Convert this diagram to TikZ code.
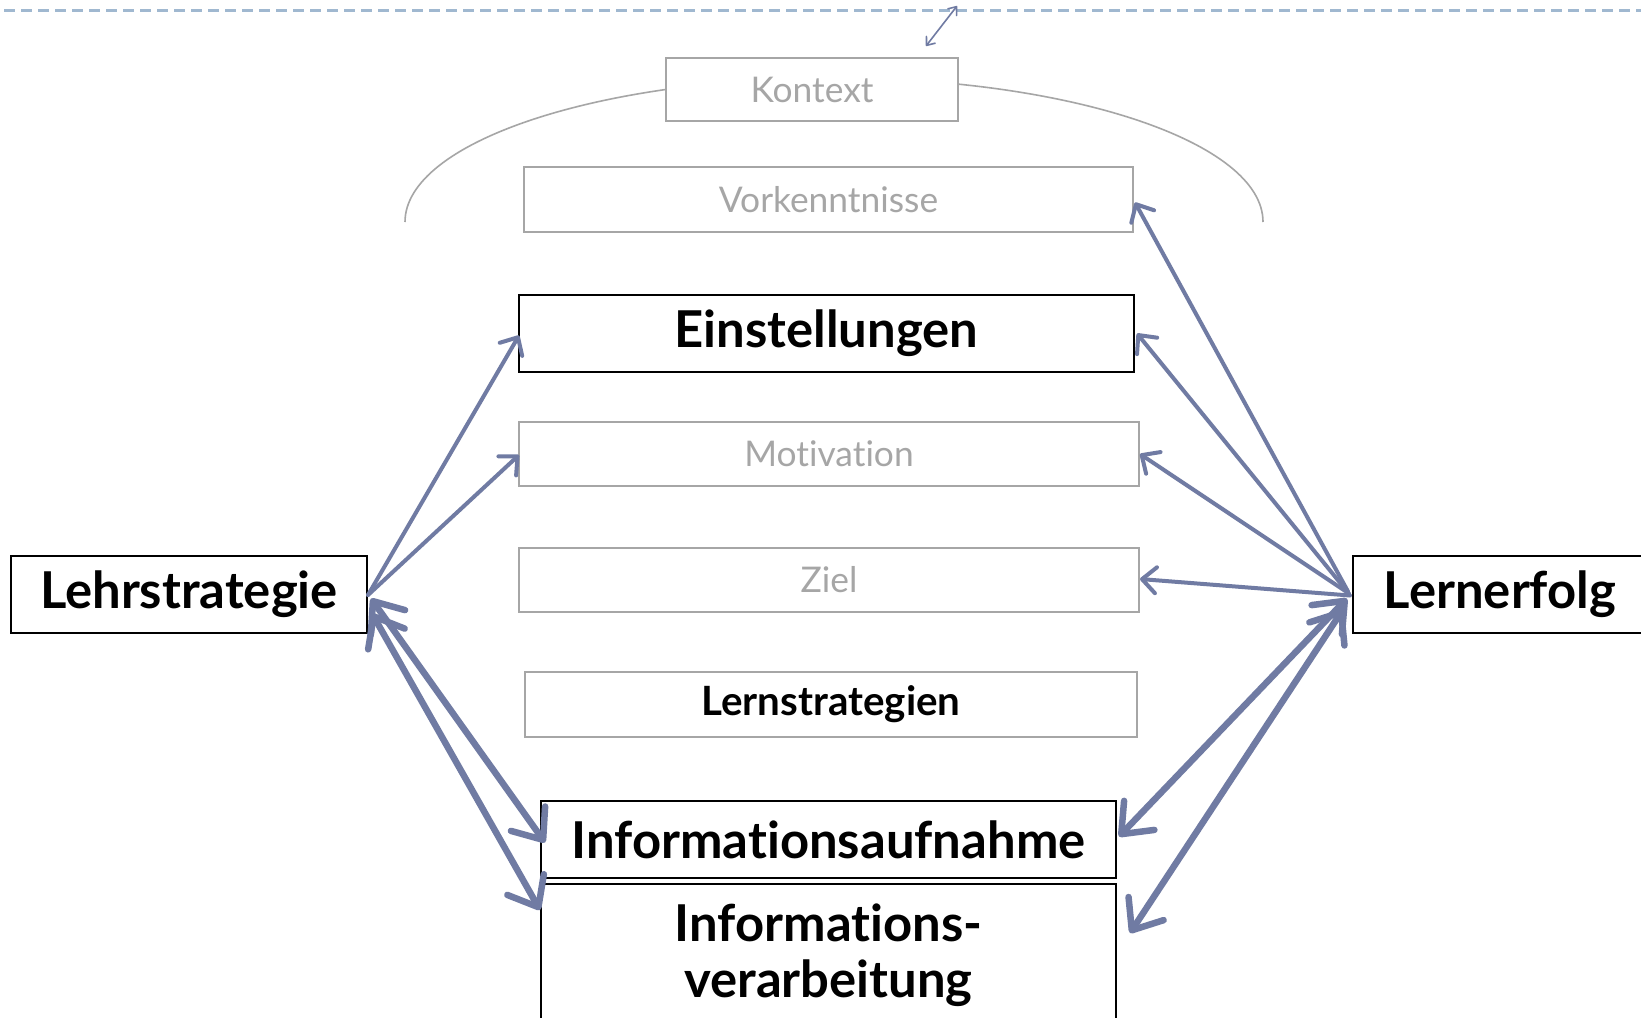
\documentclass[tikz,border=0pt]{standalone}
\usepackage{fontspec}
\setmainfont{Lato}[Ligatures={NoCommon}]
\usetikzlibrary{arrows.meta,calc}
\definecolor{arrowc}{RGB}{112,123,163}
\definecolor{boxgray}{RGB}{166,166,166}
\definecolor{dashc}{RGB}{160,184,208}
\begin{document}
\begin{tikzpicture}[x=1bp,y=-1bp,
  basebox/.style={line width=2bp, fill=white, inner sep=0pt, anchor=north west, align=center},
  graybox/.style={basebox, draw=boxgray, text=boxgray, font=\fontsize{35.5}{42}\selectfont},
  lsbox/.style={basebox, draw=boxgray, text=black, font=\fontsize{40.5}{46}\selectfont\bfseries},
  blackbox/.style={basebox, draw=black, text=black, font=\fontsize{51}{58}\selectfont\bfseries},
  thinarr/.style={draw=arrowc, line width=4bp, line cap=round, -{Straight Barb[length=14bp,width=26bp,round]}},
  thickarr/.style={draw=arrowc, line width=6.5bp, line cap=round, {Straight Barb[length=26bp,width=42bp,round]}-{Straight Barb[length=26bp,width=42bp,round]}},
  toparr/.style={draw=arrowc, line width=1.6bp, {Straight Barb[length=7bp,width=11bp,round]}-{Straight Barb[length=7bp,width=11bp,round]}}
]
\useasboundingbox (0,0) rectangle (1641,1017);
\clip (0,0) rectangle (1641,1017);
\fill[white] (0,0) rectangle (1641,1017);

% dashed top line
\draw[dashc, line width=3bp, dash pattern=on 11bp off 6bp] (4,10) -- (1641,10);

% arc behind Kontext
\draw[boxgray, line width=1.6bp] (405,222) arc[start angle=180, end angle=360, x radius=429, y radius=144];

% boxes
\node[graybox, minimum width=292bp, minimum height=63bp] (kontext) at (665,57) {Kontext};
\node[graybox, minimum width=609bp, minimum height=65bp] (vork) at (523,166) {Vorkenntnisse};
\node[blackbox, minimum width=615bp, minimum height=77bp] (einst) at (518,294) {\raisebox{-3bp}{Einstellungen}};
\node[graybox, minimum width=620bp, minimum height=64bp] (motiv) at (518,421) {Motivation};
\node[graybox, minimum width=620bp, minimum height=64bp] (ziel) at (518,547) {Ziel};
\node[lsbox, minimum width=612bp, minimum height=65bp] (lernstr) at (524,671) {Lernstrategien};
\node[blackbox, minimum width=575bp, minimum height=77bp] (aufn) at (540,800) {Informationsaufnahme};
\node[blackbox, minimum width=575bp, minimum height=142bp] (verarb) at (540,883) {Informations-\\[-2bp]verarbeitung};
\node[blackbox, minimum width=356bp, minimum height=77bp] (lehr) at (10,555) {Lehrstrategie};
\node[blackbox, minimum width=294bp, minimum height=77bp] (lern) at (1352,555) {Lernerfolg};

% top small arrow
\coordinate (ta) at (926,46);
\coordinate (tb) at (957,6);
\draw[toparr] (ta) -- (tb);

% arrows from Lehrstrategie
\draw[thinarr] ([yshift=-0.5bp]lehr.east) -- ([xshift=1bp,yshift=-2bp]einst.west);
\draw[thinarr] ([yshift=-0.5bp]lehr.east) -- ([xshift=1bp,yshift=-1bp]motiv.west);
\draw[thickarr] ([xshift=3bp,yshift=-4bp]lehr.east) -- ([xshift=5bp,yshift=-3bp]aufn.west);
\draw[thickarr] ([xshift=4bp,yshift=-19bp]lehr.east) -- ([xshift=0bp,yshift=-27bp]verarb.north west);

% arrows from Lernerfolg
\draw[thinarr] ([xshift=-4bp,yshift=3bp]lern.west) -- ([xshift=1bp,yshift=-3bp]vork.east);
\draw[thinarr] ([xshift=-4bp,yshift=2bp]lern.west) -- ([xshift=2bp]einst.east);
\draw[thinarr] ([xshift=-3bp,yshift=1bp]lern.west) -- ([xshift=0bp]motiv.east);
\draw[thinarr] ([xshift=-2bp,yshift=-1bp]lern.west) -- ([yshift=1bp]ziel.east);
\draw[thickarr] ([xshift=-5bp,yshift=-4bp]lern.west) -- ([xshift=2bp,yshift=3bp]aufn.east);
\draw[thickarr] ([xshift=-9bp,yshift=-15bp]lern.west) -- ([xshift=13bp,yshift=-50bp]verarb.north east);
\end{tikzpicture}
\end{document}
